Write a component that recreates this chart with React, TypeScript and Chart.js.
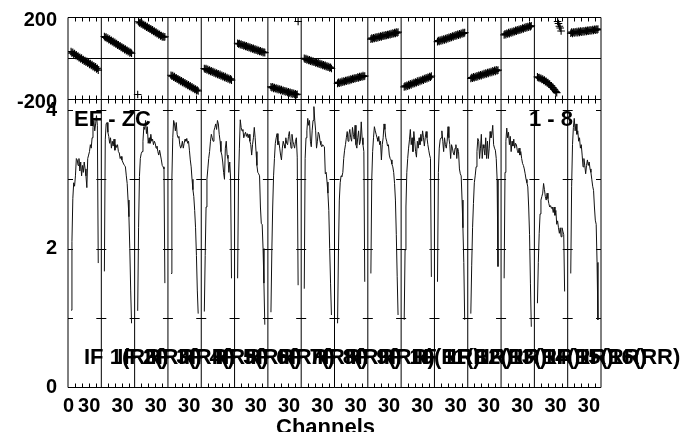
import { useEffect, useRef } from 'react';
import { Chart, registerables } from 'chart.js';

Chart.register(...registerables);

const FONT = "'Liberation Sans', Arial, Helvetica, sans-serif";

// ---------- labels ----------
const ifNames = [
  'IF 1(RR)', 'IF 2(RR)', 'IF 3(RR)', 'IF 4(RR)', 'IF 5(RR)', 'IF 6(RR)', 'IF 7(RR)', 'IF 8(RR)',
  'IF 9(RR)', 'IF 10(RR)', 'IF 11(RR)', 'IF 12(RR)', 'IF 13(RR)', 'IF 14(RR)', 'IF 15(RR)', 'IF 16(RR)',
];
const panelTitleLeft = 'EF - ZC';
const panelTitleRight = '1 - 8';
const axisTitle = 'Channels';
const xLabelChannels = [0, 30];
const phaseTicks = [-200, 0, 200];
const ampTicks = [0, 1, 2, 3, 4];
const ampLabelled = [0, 2, 4];
const minorTickChannels = [4, 12, 20, 28];

// ---------- amplitude (32 channels per IF) ----------
const ampIF01 = [1.11, 2.1, 2.72, 2.95, 2.9, 3.05, 3.3, 3.28, 3.2, 3.3, 3.12, 3.25, 3.05, 3.2, 3.1, 3.25, 3.15, 3.05, 2.88, 3.3, 3.35, 3.4, 3.5, 3.45, 3.6, 3.75, 3.85, 3.7, 3.8, 3.92, 3.78, 1.79];
const ampIF02 = [1.67, 3.57, 3.8, 3.82, 3.68, 3.62, 3.52, 3.6, 3.45, 3.55, 3.48, 3.58, 3.42, 3.5, 3.46, 3.5, 3.4, 3.38, 3.3, 3.33, 3.28, 3.25, 3.22, 3.2, 3.18, 3.05, 2.94, 2.7, 2.46, 2.0, 1.4, 0.92];
const ampIF03 = [1.1, 2.3, 3.04, 3.3, 3.37, 3.4, 3.55, 3.76, 3.72, 3.85, 3.66, 3.76, 3.52, 3.6, 3.52, 3.65, 3.55, 3.58, 3.5, 3.55, 3.52, 3.45, 3.48, 3.4, 3.35, 3.42, 3.35, 3.28, 3.2, 3.18, 3.15, 1.5];
const ampIF04 = [1.64, 3.0, 3.6, 3.85, 3.8, 3.7, 3.82, 3.65, 3.6, 3.62, 3.5, 3.45, 3.48, 3.55, 3.45, 3.52, 3.58, 3.55, 3.59, 3.52, 3.55, 3.42, 3.28, 3.18, 3.0, 2.85, 2.75, 2.55, 2.3, 1.9, 1.4, 1.06];
const ampIF05 = [1.09, 1.9, 2.6, 3.0, 3.15, 3.3, 3.4, 3.55, 3.65, 3.6, 3.55, 3.7, 3.75, 3.8, 3.72, 3.85, 3.8, 3.65, 3.55, 3.4, 3.35, 3.25, 3.1, 3.0, 3.45, 3.55, 3.35, 3.3, 3.1, 3.25, 3.0, 1.57];
const ampIF06 = [1.57, 3.0, 3.45, 3.86, 3.75, 3.7, 3.72, 3.6, 3.65, 3.68, 3.62, 3.66, 3.6, 3.65, 3.55, 3.5, 3.35, 3.5, 3.6, 3.75, 3.6, 3.4, 3.2, 3.1, 3.08, 3.05, 2.6, 2.36, 2.35, 2.0, 1.5, 0.9];
const ampIF07 = [1.08, 1.95, 2.6, 3.05, 3.3, 3.52, 3.6, 3.66, 3.5, 3.55, 3.45, 3.35, 3.28, 3.45, 3.55, 3.5, 3.45, 3.6, 3.52, 3.5, 3.62, 3.69, 3.55, 3.45, 3.65, 3.55, 3.5, 3.45, 3.55, 3.6, 3.32, 1.47];
const ampIF08 = [1.42, 3.3, 3.6, 3.7, 3.88, 3.78, 3.85, 3.55, 3.47, 3.7, 3.85, 4.05, 3.85, 3.7, 3.45, 3.55, 3.68, 3.65, 3.55, 3.5, 3.47, 3.5, 3.48, 3.47, 3.08, 3.1, 2.96, 2.8, 2.55, 2.0, 1.5, 1.04];
const ampIF09 = [0.92, 1.95, 2.7, 2.95, 3.05, 3.04, 3.1, 3.3, 3.42, 3.5, 3.6, 3.69, 3.55, 3.65, 3.72, 3.6, 3.55, 3.75, 3.65, 3.58, 3.78, 3.5, 3.45, 3.6, 3.7, 3.5, 3.55, 3.83, 3.6, 3.5, 3.4, 1.52];
const ampIF10 = [1.64, 3.0, 3.4, 3.6, 3.76, 3.7, 3.65, 3.6, 3.55, 3.62, 3.5, 3.55, 3.28, 3.5, 3.6, 3.8, 3.72, 3.6, 3.55, 3.48, 3.5, 3.35, 3.3, 3.28, 3.22, 3.18, 3.1, 2.94, 2.7, 2.2, 1.6, 1.04];
const ampIF11 = [0.97, 1.98, 2.6, 3.1, 3.3, 3.45, 3.57, 3.72, 3.5, 3.6, 3.4, 3.69, 3.55, 3.4, 3.32, 3.55, 3.45, 3.6, 3.5, 3.65, 3.55, 3.7, 3.6, 3.48, 3.6, 3.69, 3.6, 3.5, 3.42, 3.35, 3.3, 1.59];
const ampIF12 = [1.52, 3.1, 3.45, 3.57, 3.6, 3.7, 3.55, 3.4, 3.6, 3.5, 3.45, 3.55, 3.76, 3.6, 3.5, 3.3, 3.5, 3.45, 3.38, 3.35, 3.45, 3.5, 3.3, 3.45, 3.4, 3.15, 3.08, 3.05, 2.7, 2.3, 1.8, 0.97];
const ampIF13 = [1.06, 1.75, 2.3, 2.65, 2.95, 3.05, 3.18, 3.4, 3.59, 3.55, 3.3, 3.45, 3.65, 3.3, 3.5, 3.45, 3.35, 3.6, 3.3, 3.55, 3.3, 3.45, 3.69, 3.6, 3.65, 3.78, 3.5, 3.45, 3.42, 3.3, 3.0, 1.74];
const ampIF14 = [1.57, 3.1, 3.55, 3.74, 3.6, 3.68, 3.5, 3.62, 3.4, 3.55, 3.48, 3.58, 3.45, 3.52, 3.5, 3.42, 3.38, 3.45, 3.35, 3.4, 3.3, 3.23, 3.2, 3.15, 3.08, 3.0, 2.95, 2.89, 2.6, 2.2, 1.5, 0.87];
const ampIF15 = [1.21, 1.8, 2.22, 2.5, 2.7, 2.75, 2.8, 2.94, 2.85, 2.75, 2.7, 2.8, 2.72, 2.65, 2.6, 2.62, 2.58, 2.6, 2.52, 2.6, 2.48, 2.55, 2.35, 2.4, 2.3, 2.22, 2.3, 2.17, 2.3, 2.25, 2.2, 1.38];
const ampIF16 = [1.64, 2.9, 3.5, 3.75, 3.88, 3.7, 3.8, 3.65, 3.7, 3.55, 3.6, 3.45, 3.5, 3.35, 3.18, 3.3, 3.2, 3.08, 3.2, 3.28, 3.2, 3.25, 3.15, 3.1, 3.0, 2.9, 2.84, 2.6, 2.41, 2.35, 1.8, 0.97];

// ---------- phase (degrees, 32 channels per IF) ----------
const phsIF01 = [31, 24, 28, 18, 22, 12, 16, 7, 10, 1, 3, -5, 0, -10, -7, -15, -12, -21, -16, -25, -22, -31, -27, -36, -32, -42, -38, -47, -43, -53, -50, -59];
const phsIF02 = [105, 100, 102, 95, 97, 89, 92, 84, 86, 79, 81, 73, 76, 68, 70, 63, 65, 57, 60, 52, 54, 47, 49, 41, 44, 36, 38, 31, 33, 25, 28, 23];
const phsIF03 = [-178, 177, 171, 173, 166, 168, 161, 163, 156, 158, 150, 153, 145, 147, 140, 142, 135, 137, 129, 132, 124, 126, 119, 121, 113, 116, 108, 110, 103, 106, 101, 104];
const phsIF04 = [-84, -89, -86, -94, -91, -99, -96, -104, -101, -109, -106, -114, -111, -119, -116, -124, -121, -129, -126, -134, -131, -139, -136, -144, -141, -149, -146, -154, -151, -159, -156, -161];
const phsIF05 = [-51, -55, -52, -58, -55, -62, -59, -66, -62, -69, -66, -73, -70, -77, -73, -80, -77, -84, -80, -88, -84, -91, -88, -95, -91, -99, -95, -102, -99, -106, -102, -108];
const phsIF06 = [72, 68, 71, 65, 68, 62, 65, 59, 62, 56, 59, 53, 56, 50, 53, 47, 50, 44, 47, 41, 44, 38, 41, 35, 38, 32, 35, 29, 32, 26, 29, 26];
const phsIF07 = [-141, -145, -141, -148, -144, -150, -147, -153, -149, -155, -152, -158, -154, -161, -157, -163, -160, -166, -162, -168, -165, -171, -167, -174, -170, -176, -172, -178, -175, -179, -177, 178];
const phsIF08 = [-2, -6, -3, -9, -6, -12, -9, -15, -12, -18, -15, -21, -18, -24, -21, -27, -24, -30, -27, -33, -30, -36, -33, -39, -36, -42, -39, -45, -42, -48, -45, -51];
const phsIF09 = [-124, -119, -123, -117, -121, -114, -118, -112, -116, -110, -113, -107, -111, -105, -109, -103, -106, -100, -104, -98, -101, -96, -99, -93, -97, -91, -94, -89, -92, -86, -90, -88];
const phsIF10 = [92, 97, 93, 99, 95, 101, 97, 103, 99, 105, 101, 107, 103, 109, 106, 111, 108, 113, 110, 115, 112, 117, 114, 119, 116, 122, 118, 124, 120, 126, 122, 126];
const phsIF11 = [-141, -136, -140, -133, -137, -130, -134, -126, -131, -123, -127, -120, -124, -117, -121, -113, -118, -110, -114, -107, -111, -104, -108, -100, -104, -97, -101, -94, -97, -90, -94, -88];
const phsIF12 = [80, 85, 81, 87, 83, 90, 86, 93, 88, 95, 91, 98, 94, 101, 97, 104, 100, 107, 103, 110, 106, 113, 109, 116, 111, 118, 114, 121, 117, 124, 120, 124];
const phsIF13 = [-100, -95, -99, -92, -96, -90, -94, -87, -91, -84, -88, -82, -86, -79, -83, -76, -80, -74, -78, -71, -75, -68, -72, -66, -70, -63, -67, -60, -65, -58, -62, -59];
const phsIF14 = [113, 118, 114, 121, 117, 124, 119, 126, 122, 129, 125, 132, 128, 135, 131, 137, 134, 140, 136, 143, 139, 146, 142, 149, 145, 152, 148, 154, 150, 157, 153, 157];
const phsIF15 = [-92, -96, -95, -100, -99, -105, -103, -110, -108, -115, -114, -121, -120, -128, -127, -135, -136, -144, -146, -153, -157, -164, -169, 178, 168, 155, 146, 132, null, null, null, null];
const phsIF16 = [121, 126, 120, 127, 122, 128, 123, 129, 124, 130, 125, 131, 126, 132, 127, 133, 128, 134, 130, 135, 131, 136, 132, 137, 133, 139, 134, 140, 136, 141, 137, 141];

const amplitudeByIF = [ampIF01, ampIF02, ampIF03, ampIF04, ampIF05, ampIF06, ampIF07, ampIF08, ampIF09, ampIF10, ampIF11, ampIF12, ampIF13, ampIF14, ampIF15, ampIF16];
const phaseByIF = [phsIF01, phsIF02, phsIF03, phsIF04, phsIF05, phsIF06, phsIF07, phsIF08, phsIF09, phsIF10, phsIF11, phsIF12, phsIF13, phsIF14, phsIF15, phsIF16];

// ---------- layout of the channel axis ----------
const PANEL_UNITS = 38; // x-units per IF panel
const CH_OFFSET = 3.5; // position of channel 0 inside a panel
const N_IF = amplitudeByIF.length;
const chanX = (i: number, c: number) => i * PANEL_UNITS + CH_OFFSET + c;
const IF_LABEL_CHANNEL = 14.75;
const IF_LABEL_LEVEL = 0.332;

const ampPoints: { x: number; y: number | null }[] = [];
amplitudeByIF.forEach((arr, i) => {
  arr.forEach((v, c) => ampPoints.push({ x: chanX(i, c), y: v }));
  if (i < N_IF - 1) ampPoints.push({ x: chanX(i, 32), y: null });
});
const phasePoints: { x: number; y: number }[] = [];
phaseByIF.forEach((arr, i) => {
  arr.forEach((v, c) => {
    if (v !== null) phasePoints.push({ x: chanX(i, c), y: v as number });
  });
});

const possmPlugin = {
  id: 'possmFrames',
  beforeDatasetsDraw(chart: any) {
    const { ctx, chartArea } = chart;
    const xs = chart.scales.x;
    const ya = chart.scales.ya;
    const yp = chart.scales.yp;
    const L = chartArea.left;
    const R = chartArea.right;
    const a = (v: number) => Math.round(v) + 0.5;
    const T = a(yp.top);
    const M = a(yp.bottom);
    const B = a(ya.bottom);
    ctx.save();
    ctx.strokeStyle = '#000';
    ctx.lineWidth = 1;
    const seg = (x1: number, y1: number, x2: number, y2: number) => {
      ctx.beginPath();
      ctx.moveTo(x1, y1);
      ctx.lineTo(x2, y2);
      ctx.stroke();
    };
    seg(L, T, R, T);
    seg(L, M, R, M);
    seg(L, B, R, B);
    for (let i = 0; i <= N_IF; i++) {
      const px = xs.getPixelForValue(i * PANEL_UNITS);
      seg(px, T, px, B);
    }
    for (let i = 0; i < N_IF; i++) {
      for (const c of minorTickChannels) {
        const px = a(xs.getPixelForValue(chanX(i, c)));
        seg(px, T, px, T + 4);
        seg(px, M - 4, px, M + 4);
        seg(px, B - 4, px, B);
      }
    }
    for (let i = 0; i <= N_IF; i++) {
      const px = xs.getPixelForValue(i * PANEL_UNITS);
      for (const v of ampTicks) {
        if (v === 0) continue;
        const yy = a(ya.getPixelForValue(v));
        seg(i > 0 ? px - 5 : px, yy, i < N_IF ? px + 5 : px, yy);
      }
    }
    ctx.restore();
  },
  afterDatasetsDraw(chart: any) {
    const { ctx, chartArea } = chart;
    const xs = chart.scales.x;
    const ya = chart.scales.ya;
    ctx.save();
    ctx.fillStyle = '#000';
    ctx.font = `bold 22px ${FONT}`;
    ctx.textBaseline = 'alphabetic';
    ctx.textAlign = 'left';
    ifNames.forEach((name, i) => {
      ctx.fillText(name, xs.getPixelForValue(chanX(i, IF_LABEL_CHANNEL)), ya.getPixelForValue(IF_LABEL_LEVEL));
    });
    ctx.fillText(panelTitleLeft, chartArea.left + 6, ya.top + 27);
    ctx.textAlign = 'right';
    ctx.fillText(panelTitleRight, chartArea.right - 28, ya.top + 27);
    ctx.textAlign = 'center';
    ctx.fillText(axisTitle, (chartArea.left + chartArea.right) / 2 - 9, ya.bottom + 47);
    ctx.restore();
  },
};

const tickFont = { family: FONT, size: 20, weight: 'bold' as const, lineHeight: 0.8 };
const fitY = (scale: any) => {
  scale.width = 60;
  scale.paddingTop = 0;
  scale.paddingBottom = 0;
};

export default function App() {
  const ref = useRef<HTMLCanvasElement>(null);
  useEffect(() => {
    if (!ref.current) return;
    const chart = new Chart(ref.current, {
      type: 'line',
      data: {
        datasets: [
          {
            label: 'Amplitude',
            data: ampPoints as any,
            yAxisID: 'ya',
            borderColor: '#111',
            borderWidth: 1,
            pointRadius: 0,
            spanGaps: false,
            tension: 0,
            fill: false,
          },
          {
            label: 'Phase',
            data: phasePoints as any,
            yAxisID: 'yp',
            showLine: false,
            pointStyle: 'cross',
            pointRadius: 3.8,
            pointBorderWidth: 1.1,
            pointBorderColor: '#000',
            borderColor: '#000',
            backgroundColor: '#000',
          },
        ],
      },
      options: {
        responsive: false,
        animation: false,
        layout: { padding: { left: 0, top: 9, right: 81, bottom: 0 } },
        plugins: { legend: { display: false }, tooltip: { enabled: false }, title: { display: false } },
        scales: {
          x: {
            type: 'linear',
            position: 'bottom',
            min: 0,
            max: N_IF * PANEL_UNITS,
            grid: { display: false, drawTicks: false },
            border: { display: false },
            afterBuildTicks: (scale: any) => {
              const t: { value: number }[] = [{ value: chanX(0, xLabelChannels[0]) }];
              for (let i = 0; i < N_IF; i++) t.push({ value: chanX(i, xLabelChannels[1]) });
              scale.ticks = t;
            },
            afterFit: (scale: any) => {
              scale.height = 53;
            },
            ticks: {
              autoSkip: false,
              maxRotation: 0,
              align: 'end',
              labelOffset: 3,
              padding: 7,
              color: '#000',
              font: { family: FONT, size: 20, weight: 'bold' },
              callback: (v: any) => String(Math.round((Number(v) - CH_OFFSET) % PANEL_UNITS)),
            },
          },
          ya: {
            type: 'linear',
            position: 'left',
            stack: 'panels',
            stackWeight: 288,
            min: 0,
            max: 4.16,
            grid: { display: false, drawTicks: false },
            border: { display: false },
            afterBuildTicks: (scale: any) => {
              scale.ticks = ampTicks.map((v) => ({ value: v }));
            },
            afterFit: fitY,
            ticks: {
              autoSkip: false,
              padding: 11,
              color: '#000',
              font: tickFont,
              callback: (v: any) => (ampLabelled.includes(Number(v)) ? String(v) : ''),
            },
          },
          yp: {
            type: 'linear',
            position: 'left',
            stack: 'panels',
            stackWeight: 82,
            min: -200,
            max: 200,
            grid: {
              display: true,
              drawTicks: false,
              lineWidth: 1,
              color: (c: any) => (c.tick && c.tick.value === 0 ? '#000' : 'rgba(0,0,0,0)'),
            },
            border: { display: false },
            afterBuildTicks: (scale: any) => {
              scale.ticks = phaseTicks.map((v) => ({ value: v }));
            },
            afterFit: fitY,
            ticks: {
              autoSkip: false,
              padding: 11,
              labelOffset: 3,
              color: '#000',
              font: tickFont,
              callback: (v: any) => (Number(v) === 0 ? '' : String(v)),
            },
          },
        },
      } as any,
      plugins: [possmPlugin],
    });
    return () => chart.destroy();
  }, []);
  return (
    <div style={{ width: 674, height: 424 }}>
      <canvas ref={ref} width={674} height={432} style={{ display: 'block' }} />
    </div>
  );
}
